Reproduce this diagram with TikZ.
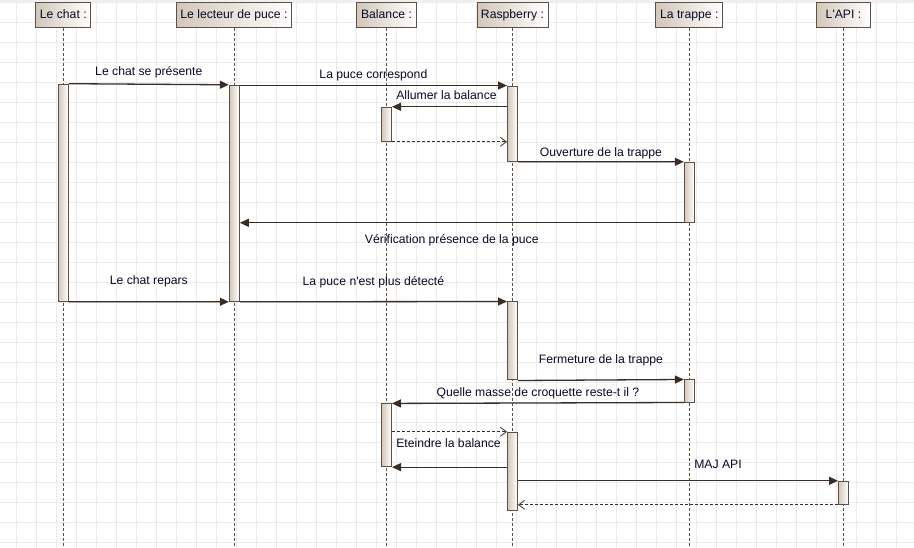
\documentclass[tikz,border=0pt]{standalone}
\usepackage{fontspec}
\setmainfont{Liberation Sans}
\usetikzlibrary{arrows.meta}
\definecolor{gridc}{HTML}{EBEBEB}
\definecolor{stripc}{HTML}{F0F0F0}
\definecolor{linec}{HTML}{3A2D26}
\definecolor{framec}{HTML}{5E5047}
\definecolor{tanc}{HTML}{D2C7BA}
\definecolor{textc}{HTML}{0A0A24}
\tikzset{
  head/.style={draw=framec, line width=1pt, left color=tanc, right color=white, text=textc,
    minimum height=24.6pt, inner sep=0pt, text height=9pt, text depth=2.5pt},
  life/.style={draw=framec, line width=0.8pt, dash pattern=on 3pt off 2pt},
  bar/.style={draw=framec, line width=1pt, left color=tanc, right color=white,
    minimum width=10pt, inner sep=0pt},
  msg/.style={draw=linec, line width=1.3pt, -{Triangle[length=9pt,width=8pt]}},
  ret/.style={draw=linec, line width=0.8pt, dash pattern=on 3pt off 2pt,
    -{Straight Barb[length=6pt,width=9pt]}},
  lbl/.style={text=textc, inner sep=0pt, text height=9pt, text depth=2.5pt},
  gridline/.style={draw=gridc, line width=0.8pt}
}
\begin{document}
\begin{tikzpicture}[x=1pt,y=-1pt,font=\fontsize{12.2}{14}\selectfont]
\useasboundingbox (0,0) rectangle (914,548);
\fill[white] (0,0) rectangle (914,548);
% grid
\foreach \gx in {16.5,36.5,...,900}
  \draw[gridline] (\gx,0) -- (\gx,548);
\foreach \gy in {2.7,22.7,...,548}
  \draw[gridline] (0,\gy) -- (914,\gy);
\fill[stripc] (0,0) rectangle (914,2);
\coordinate (bot) at (0,548);

% participants
\node[head, minimum width=54.7pt] (chat) at (63.3,15) {Le chat :};
\node[head, minimum width=115.7pt] (lec) at (234,15) {Le lecteur de puce :};
\node[head, minimum width=59.7pt] (bal) at (386.5,15) {Balance :};
\node[head, minimum width=71pt] (ras) at (512.5,15) {Raspberry :};
\node[head, minimum width=66.7pt] (trap) at (689.3,15) {La trappe :};
\node[head, minimum width=54.4pt] (api) at (843.5,15) {L\textquotesingle API :};

% lifelines
\draw[life] (chat) -- (chat |- bot);
\draw[life] (lec) -- (lec |- bot);
\draw[life] (bal) -- (bal |- bot);
\draw[life] (ras) -- (ras |- bot);
\draw[life] (trap) -- (trap |- bot);
\draw[life] (api) -- (api |- bot);

% activations
\node[bar, minimum height=217pt] (chatA) at (63.3,192.7) {};
\node[bar, minimum height=216pt] (lecA) at (234.3,193.3) {};
\node[bar, minimum height=34pt] (balA) at (386.5,124.3) {};
\node[bar, minimum height=75.3pt] (rasA) at (512.5,123.7) {};
\node[bar, minimum height=60pt] (trapA) at (689.3,192.3) {};
\node[bar, minimum height=78pt] (rasB) at (512.5,341) {};
\node[bar, minimum height=22pt] (trapB) at (689.3,391) {};
\node[bar, minimum height=62.7pt] (balB) at (386.5,435.3) {};
\node[bar, minimum height=78.4pt] (rasC) at (512.5,471.5) {};
\node[bar, minimum height=23pt] (apiA) at (843.5,492.8) {};

% messages
\draw[msg] (chatA.north east) -- node[lbl, yshift=12pt] (l1) {Le chat se présente} (lecA.north west);
\draw[msg] (lecA.east |- rasA.north) -- node[lbl, yshift=10pt] (l2) {La puce correspond} (rasA.north west);
\draw[msg] (rasA.west |- balA.north) -- node[lbl, yshift=10.3pt, xshift=-3pt] (l3) {Allumer la balance} (balA.north east);
\draw[ret] (balA.south east) -- (rasA.west |- balA.south);
\draw[msg] (rasA.south east) -- node[lbl, yshift=9pt] (l4) {Ouverture de la trappe} (trapA.north west);
\draw[msg] (trapA.south west) -- node[lbl, yshift=-17pt, xshift=-10pt] (l5) {Vérification présence de la puce} (lecA.east |- trapA.south);
\draw[msg] (chatA.south east) -- node[lbl, yshift=20pt] (l6) {Le chat repars} (lecA.south west);
\draw[msg] (lecA.south east) -- node[lbl, yshift=19pt] (l7) {La puce n\textquotesingle est plus détecté} (rasB.north west);
\draw[msg] (rasB.south east) -- node[lbl, yshift=20pt] (l8) {Fermeture de la trappe} (trapB.north west);
\draw[msg] (trapB.south west) -- node[lbl, yshift=10pt] (l9) {Quelle masse de croquette reste-t il ?} (balB.north east);
\draw[ret] (balB.east |- rasC.north) -- (rasC.north west);
\draw[msg] (rasC.west |- balB.south) -- node[lbl, yshift=22.7pt, xshift=-1pt] (l10) {Eteindre la balance} (balB.south east);
\draw[msg] (rasC.east |- apiA.north) -- node[lbl, yshift=15.6pt, xshift=40pt] (l11) {MAJ API} (apiA.north west);
\draw[ret] (apiA.south west) -- (rasC.east |- apiA.south);
\end{tikzpicture}
\end{document}
